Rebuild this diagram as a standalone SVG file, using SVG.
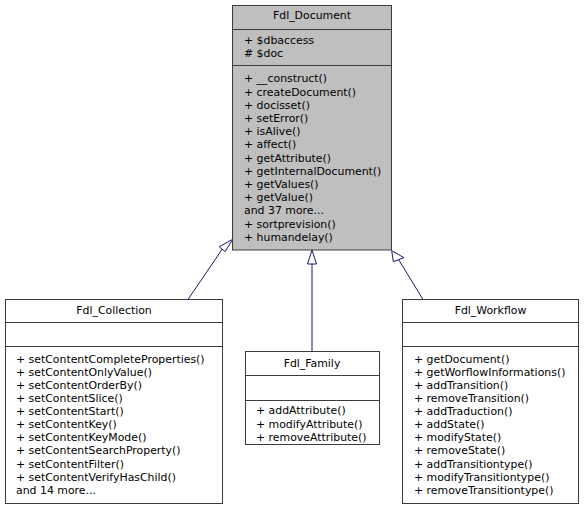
<svg xmlns="http://www.w3.org/2000/svg" width="584" height="509" viewBox="0 0 584 509">
<style>
.box{fill:#ffffff;stroke:#3c3c3c;stroke-width:1}
.base{fill:#bfbfbf;stroke:#3c3c3c;stroke-width:1}
.sep{stroke:#3c3c3c;stroke-width:1}
text{font-family:"DejaVu Sans","Liberation Sans",sans-serif;font-size:10.9px;fill:#000}
.t{text-anchor:middle}
.edge{stroke:#191970;stroke-width:1;fill:none}
.arr{stroke:#191970;stroke-width:1;fill:#ffffff}
</style>
<rect width="584" height="509" fill="#ffffff"/>
<g id="connectors">
<line class="edge" x1="188.3" y1="299" x2="222.2" y2="249.2"/>
<polygon class="arr" points="232.7,239.3 219.3,246.7 225,251.7"/>
<line class="edge" x1="312" y1="351" x2="312" y2="264"/>
<polygon class="arr" points="312,250 307.5,264 316.5,264"/>
<line class="edge" x1="422.7" y1="299" x2="398.7" y2="259.7"/>
<polygon class="arr" points="391.7,250.7 393.3,261.7 404,257.7"/>
</g>
<g id="Fdl_Document">
<rect class="base" x="232.5" y="5.5" width="159" height="244.5"/>
<line class="sep" x1="232.5" y1="29.5" x2="391.5" y2="29.5"/>
<line class="sep" x1="232.5" y1="65.5" x2="391.5" y2="65.5"/>
<text class="t" x="312" y="19">Fdl_Document</text>
<text x="244" y="44.3">+ $dbaccess</text>
<text x="244" y="57.3"># $doc</text>
<text x="244" y="82.3">+ __construct()</text>
<text x="244" y="95.5">+ createDocument()</text>
<text x="244" y="108.7">+ docisset()</text>
<text x="244" y="121.9">+ setError()</text>
<text x="244" y="135.1">+ isAlive()</text>
<text x="244" y="148.3">+ affect()</text>
<text x="244" y="161.5">+ getAttribute()</text>
<text x="244" y="174.7">+ getInternalDocument()</text>
<text x="244" y="187.9">+ getValues()</text>
<text x="244" y="201.1">+ getValue()</text>
<text x="244" y="214.3">and 37 more...</text>
<text x="244" y="227.5">+ sortprevision()</text>
<text x="244" y="240.7">+ humandelay()</text>
</g>
<g id="Fdl_Collection">
<rect class="box" x="5.5" y="299.5" width="217" height="204"/>
<line class="sep" x1="5.5" y1="322.5" x2="222.5" y2="322.5"/>
<line class="sep" x1="5.5" y1="346.5" x2="222.5" y2="346.5"/>
<text class="t" x="114" y="314">Fdl_Collection</text>
<text x="16" y="362.7">+ setContentCompleteProperties()</text>
<text x="16" y="375.8">+ setContentOnlyValue()</text>
<text x="16" y="388.9">+ setContentOrderBy()</text>
<text x="16" y="402">+ setContentSlice()</text>
<text x="16" y="415.1">+ setContentStart()</text>
<text x="16" y="428.2">+ setContentKey()</text>
<text x="16" y="441.3">+ setContentKeyMode()</text>
<text x="16" y="454.4">+ setContentSearchProperty()</text>
<text x="16" y="467.5">+ setContentFilter()</text>
<text x="16" y="480.6">+ setContentVerifyHasChild()</text>
<text x="16" y="493.7">and 14 more...</text>
</g>
<g id="Fdl_Family">
<rect class="box" x="245.5" y="351.5" width="134" height="93"/>
<line class="sep" x1="245.5" y1="375.5" x2="379.5" y2="375.5"/>
<line class="sep" x1="245.5" y1="400.5" x2="379.5" y2="400.5"/>
<text class="t" x="312" y="367.3">Fdl_Family</text>
<text x="256" y="414.3">+ addAttribute()</text>
<text x="256" y="427.5">+ modifyAttribute()</text>
<text x="256" y="440.7">+ removeAttribute()</text>
</g>
<g id="Fdl_Workflow">
<rect class="box" x="402.5" y="299.5" width="176" height="204"/>
<line class="sep" x1="402.5" y1="322.5" x2="578.5" y2="322.5"/>
<line class="sep" x1="402.5" y1="346.5" x2="578.5" y2="346.5"/>
<text class="t" x="490.5" y="314">Fdl_Workflow</text>
<text x="414" y="362.7">+ getDocument()</text>
<text x="414" y="375.8">+ getWorflowInformations()</text>
<text x="414" y="388.9">+ addTransition()</text>
<text x="414" y="402">+ removeTransition()</text>
<text x="414" y="415.1">+ addTraduction()</text>
<text x="414" y="428.2">+ addState()</text>
<text x="414" y="441.3">+ modifyState()</text>
<text x="414" y="454.4">+ removeState()</text>
<text x="414" y="467.5">+ addTransitiontype()</text>
<text x="414" y="480.6">+ modifyTransitiontype()</text>
<text x="414" y="493.7">+ removeTransitiontype()</text>
</g>
</svg>
